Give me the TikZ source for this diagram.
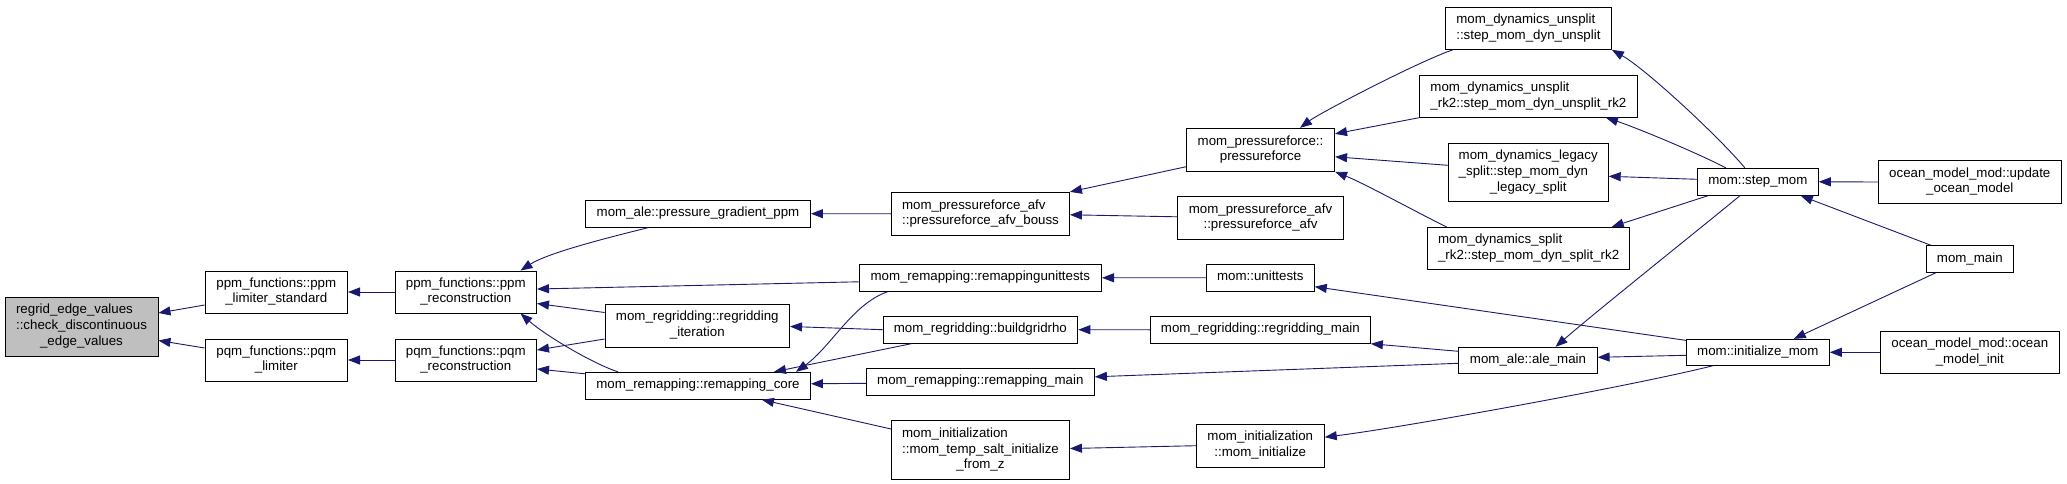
\documentclass[tikz,border=0pt]{standalone}
\usepackage{fontspec}
\newfontfamily\dxfont{Liberation Sans}
\usetikzlibrary{arrows.meta,calc}
\definecolor{dxblue}{HTML}{191970}
\definecolor{dxgray}{HTML}{BFBFBF}
\newcommand{\dxl}[1]{\begin{tabular}{@{}l@{}}#1\end{tabular}}
\newcommand{\lastln}[1]{\multicolumn{1}{@{}c@{}}{#1}}
\begin{document}
\begin{tikzpicture}[x=1pt,y=-1pt,
  box/.style={draw=black, line width=0.9pt, inner sep=0pt, rectangle, fill=white,
    font={\dxfont\fontsize{13.3}{15.7}\selectfont}},
  call/.style={draw=dxblue, line width=0.9pt, -{Triangle[length=12pt,width=9pt]}}]
\fill[white] (0,0) rectangle (2067,484);
\useasboundingbox (0,0) rectangle (2067,484);
% nodes
\node[box, fill=dxgray, minimum width=153pt, minimum height=59pt] (regrid) at (81.5,326.5) {\dxl{regrid\_edge\_values\\::check\_discontinuous\\\lastln{\_edge\_values}}};
\node[box, minimum width=142.5pt, minimum height=42pt] (plim) at (276.3,292) {\dxl{ppm\_functions::ppm\\\lastln{\_limiter\_standard}}};
\node[box, minimum width=142.5pt, minimum height=42pt] (qlim) at (276.3,360) {\dxl{pqm\_functions::pqm\\\lastln{\_limiter}}};
\node[box, minimum width=141.5pt, minimum height=42pt] (prec) at (465.8,292) {\dxl{ppm\_functions::ppm\\\lastln{\_reconstruction}}};
\node[box, minimum width=141.5pt, minimum height=42pt] (qrec) at (465.8,360) {\dxl{pqm\_functions::pqm\\\lastln{\_reconstruction}}};
\node[box, minimum width=225pt, minimum height=27pt] (pgp) at (698,213.7) {\dxl{mom\_ale::pressure\_gradient\_ppm}};
\node[box, minimum width=184.5pt, minimum height=43pt] (rit) at (697.3,325.5) {\dxl{mom\_regridding::regridding\\\lastln{\_iteration}}};
\node[box, minimum width=225pt, minimum height=27pt] (rcore) at (698,385.8) {\dxl{mom\_remapping::remapping\_core}};
\node[box, minimum width=178pt, minimum height=43pt] (bouss) at (980.5,213.8) {\dxl{mom\_pressureforce\_afv\\\lastln{::pressureforce\_afv\_bouss}}};
\node[box, minimum width=242.5pt, minimum height=27pt] (rut) at (980.3,277.8) {\dxl{mom\_remapping::remappingunittests}};
\node[box, minimum width=194.8pt, minimum height=27pt] (bgr) at (980.4,329.7) {\dxl{mom\_regridding::buildgridrho}};
\node[box, minimum width=228.2pt, minimum height=27pt] (rmain) at (980.3,381.8) {\dxl{mom\_remapping::remapping\_main}};
\node[box, minimum width=178pt, minimum height=58.6pt] (tsz) at (980.5,450) {\dxl{mom\_initialization\\::mom\_temp\_salt\_initialize\\\lastln{\_from\_z}}};
\node[box, minimum width=148.2pt, minimum height=43pt] (pf) at (1260.5,149.8) {\dxl{mom\_pressureforce::\\\lastln{pressureforce}}};
\node[box, minimum width=166.1pt, minimum height=43pt] (pfa) at (1260.5,217.8) {\dxl{mom\_pressureforce\_afv\\\lastln{::pressureforce\_afv}}};
\node[box, minimum width=108pt, minimum height=27pt] (mut) at (1260.3,277.7) {\dxl{mom::unittests}};
\node[box, minimum width=220pt, minimum height=27pt] (rgm) at (1260.4,329.8) {\dxl{mom\_regridding::regridding\_main}};
\node[box, minimum width=128pt, minimum height=43pt] (minit) at (1260.3,445.7) {\dxl{mom\_initialization\\\lastln{::mom\_initialize}}};
\node[box, minimum width=166pt, minimum height=42pt] (uns) at (1528.4,28.3) {\dxl{mom\_dynamics\_unsplit\\\lastln{::step\_mom\_dyn\_unsplit}}};
\node[box, minimum width=218.2pt, minimum height=42pt] (rk2) at (1528.4,96.3) {\dxl{mom\_dynamics\_unsplit\\\lastln{\_rk2::step\_mom\_dyn\_unsplit\_rk2}}};
\node[box, minimum width=160pt, minimum height=58pt] (leg) at (1528.2,172.3) {\dxl{mom\_dynamics\_legacy\\\_split::step\_mom\_dyn\\\lastln{\_legacy\_split}}};
\node[box, minimum width=201.4pt, minimum height=42pt] (srk2) at (1528.6,248.3) {\dxl{mom\_dynamics\_split\\\lastln{\_rk2::step\_mom\_dyn\_split\_rk2}}};
\node[box, minimum width=138.2pt, minimum height=26pt] (ale) at (1528,360.3) {\dxl{mom\_ale::ale\_main}};
\node[box, minimum width=121pt, minimum height=27pt] (stepm) at (1757.8,181.8) {\dxl{mom::step\_mom}};
\node[box, minimum width=143pt, minimum height=26pt] (imom) at (1757.8,352.3) {\dxl{mom::initialize\_mom}};
\node[box, minimum width=183pt, minimum height=42.6pt] (upd) at (1969.8,182) {\dxl{ocean\_model\_mod::update\\\lastln{\_ocean\_model}}};
\node[box, minimum width=87pt, minimum height=26.6pt] (mmain) at (1969.8,259) {\dxl{mom\_main}};
\node[box, minimum width=179pt, minimum height=42pt] (oinit) at (1969.8,352.3) {\dxl{ocean\_model\_mod::ocean\\\lastln{\_model\_init}}};
% edges (caller -> callee)
\draw[call] ($(plim.west)+(0,13)$) -- ($(regrid.east)+(0,-13.5)$);
\draw[call] ($(qlim.west)+(0,-12)$) -- ($(regrid.east)+(0,14)$);
\draw[call] (prec.west) -- (plim.east);
\draw[call] (qrec.west) -- (qlim.east);
\draw[call] ($(pgp.south west)+(63,0)$) .. controls +(-40,10) and +(28,-18) .. ($(prec.north east)+(-16.5,0)$);
\draw[call] ($(rut.west)+(0,4)$) -- ($(prec.east)+(0,-3)$);
\draw[call] ($(rit.west)+(0,-13)$) -- ($(prec.east)+(0,11.5)$);
\draw[call] ($(rcore.north west)+(33,0)$) .. controls +(-25,-8) and +(25,22) .. ($(prec.south east)+(-16.5,0)$);
\draw[call] ($(rit.west)+(0,13.5)$) -- ($(qrec.east)+(0,-10)$);
\draw[call] ($(rcore.west)+(0,-12)$) -- ($(qrec.east)+(0,9)$);
\draw[call] (bouss.west) -- (pgp.east);
\draw[call] ($(pf.south west)+(0,-5)$) -- (bouss.north east);
\draw[call] ($(pfa.west)+(0,-1)$) -- ($(bouss.east)+(0,1)$);
\draw[call] ($(rut.south west)+(29,0)$) .. controls +(-35,12) and +(35,-25) .. ($(rcore.north east)+(-15,0)$);
\draw[call] (bgr.west) -- ($(rit.east)+(0,1)$);
\draw[call] ($(bgr.south west)+(29,0)$) -- ($(rcore.north east)+(-37,0)$);
\draw[call] ($(rmain.west)+(0,1.5)$) -- ($(rcore.east)+(0,-2)$);
\draw[call] ($(tsz.west)+(0,-21)$) -- ($(rcore.south east)+(-49,0)$);
\draw[call] (mut.west) -- (rut.east);
\draw[call] (rgm.west) -- (bgr.east);
\draw[call] ($(ale.west)+(0,3)$) -- ($(rmain.east)+(0,-5)$);
\draw[call] (minit.west) -- ($(tsz.east)+(0,-1.5)$);
\draw[call] ($(ale.west)+(0,-9)$) -- (rgm.south east);
\draw[call] ($(imom.north west)+(0,1.5)$) -- ($(mut.east)+(0,9)$);
\draw[call] ($(stepm.south west)+(43,0)$) .. controls +(-30,25) and +(40,-35) .. ($(ale.north east)+(-42,0)$);
\draw[call] ($(imom.west)+(0,3)$) -- ($(ale.east)+(0,-3)$);
\draw[call] ($(imom.south west)+(27,0)$) .. controls +(-80,20) and +(80,-10) .. ($(minit.east)+(0,-8.5)$);
\draw[call] ($(uns.south west)+(8,0)$) .. controls +(-35,12) and +(20,-15) .. ($(pf.north east)+(-35,0)$);
\draw[call] (rk2.south west) -- ($(pf.north east)+(0,6)$);
\draw[call] ($(leg.west)+(0,-7)$) -- ($(pf.east)+(0,7)$);
\draw[call] ($(srk2.north west)+(19,0)$) .. controls +(-25,-12) and +(30,12) .. (pf.south east);
\draw[call] ($(stepm.north west)+(48,0)$) .. controls +(-25,-30) and +(35,20) .. (uns.south east);
\draw[call] ($(stepm.north west)+(29,0)$) .. controls +(-35,-18) and +(25,8) .. ($(rk2.south east)+(-32,0)$);
\draw[call] ($(stepm.west)+(0,-2.5)$) -- ($(leg.east)+(0,4)$);
\draw[call] ($(stepm.south west)+(11,0)$) -- ($(srk2.north east)+(-18,0)$);
\draw[call] (upd.west) -- (stepm.east);
\draw[call] ($(mmain.north west)+(5,0)$) -- ($(stepm.south east)+(-18,0)$);
\draw[call] ($(mmain.south west)+(10,0)$) -- ($(imom.north east)+(-36,0)$);
\draw[call] (oinit.west) -- (imom.east);
\end{tikzpicture}
\end{document}
